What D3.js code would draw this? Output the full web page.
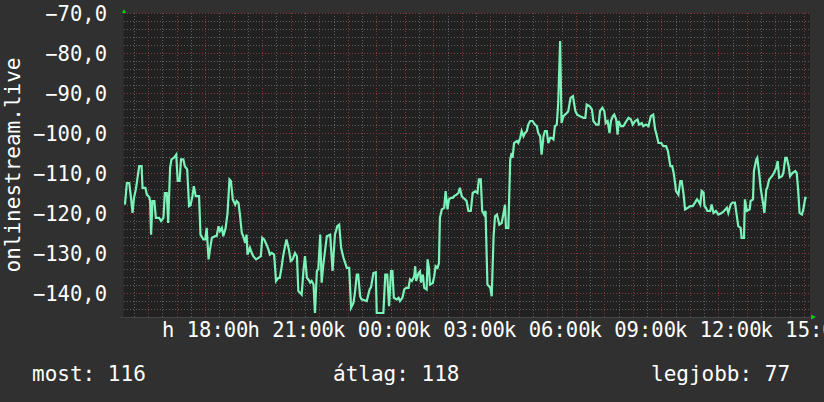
<!DOCTYPE html>
<html>
<head>
<meta charset="utf-8">
<script src="https://cdn.jsdelivr.net/npm/d3@7"></script>
<style>
  html, body { margin: 0; padding: 0; background: #303030; }
  svg { display: block; }
  text { font-family: 'DejaVu Sans Mono', monospace; fill: #ffffff; }
</style>
</head>
<body>
<div id="chart"></div>
<script>
// [minutes after Mon 15:09, value]
const signal = [
  [2, -117.9], [6, -112.5], [11, -112.5], [14, -115.4], [18, -120], [21, -116.2], [25, -114.1],
  [28, -111.6], [32, -108.3], [37, -108.3], [39, -113.7], [45, -113.7], [48, -115.4], [53, -116],
  [55, -117], [57, -125.4], [60, -117], [64, -117], [67, -121.2], [74, -121.2], [78, -122],
  [83, -121.2], [86, -115], [90, -115], [93, -122.5], [97, -108.7], [100, -106.6], [105, -106.2],
  [110, -105.4], [113, -112], [117, -112], [120, -106.6], [125, -106.6], [128, -108.3], [133, -109.1],
  [137, -118.3], [140, -118.1], [144, -115.8], [147, -113.3], [151, -115.8], [158, -115.8], [161, -125.4],
  [167, -126.6], [171, -126.6], [174, -123.7], [178, -131.6], [181, -129.1], [185, -126.2], [192, -125.8],
  [195, -125.8], [199, -123.3], [202, -124.5], [206, -123.7], [209, -125.8], [214, -123.7], [218, -120],
  [222, -111.6], [225, -112], [229, -116.6], [234, -117.9], [237, -117], [241, -117.5], [244, -120.4],
  [248, -125], [251, -125.8], [255, -127.5], [258, -125.4], [260, -130.4], [265, -128.7], [269, -130],
  [272, -130.8], [278, -131.6], [283, -131.2], [288, -130.8], [291, -126.2], [295, -126.6], [300, -127.9],
  [304, -129.1], [307, -130.4], [311, -130], [316, -130.4], [320, -137], [325, -136.2], [328, -136.2],
  [332, -133.3], [335, -130.8], [339, -128.3], [342, -126.6], [347, -129.1], [351, -132], [355, -131.6],
  [360, -130], [364, -130.8], [367, -139.5], [371, -140], [374, -140.4], [378, -134.1], [381, -130.8],
  [385, -136.2], [388, -136.6], [392, -137.4], [395, -137], [399, -137.9], [402, -145], [406, -134.5],
  [409, -134.1], [413, -125.4], [416, -137.4], [420, -132.5], [427, -125.8], [434, -125.4],
  [439, -134.5], [444, -125.4], [449, -123.3], [453, -122.9], [457, -128.7], [462, -131.2], [469, -133.7],
  [474, -133.7], [478, -143.7], [483, -142.5], [486, -140], [490, -135.4], [493, -135.4], [497, -140.8],
  [500, -141.6], [511, -142], [517, -139.1], [520, -138.5], [525, -135], [530, -134.8], [532, -145],
  [546, -145], [550, -135.4], [554, -135.4], [558, -143.3], [562, -134.5], [565, -134.5], [568, -141.2],
  [574, -141.6], [578, -141.2], [581, -142], [586, -141.2], [590, -139.1], [594, -138.7], [599, -138.7],
  [602, -136.6], [606, -137], [611, -135.8], [613, -133.3], [615, -137], [620, -135], [623, -134.6],
  [625, -137.4], [629, -135.4], [632, -138.7], [637, -139.1], [639, -131.6], [642, -133.7], [644, -137.9],
  [650, -137.5], [653, -135.8], [656, -133.3], [660, -133.7], [663, -132.5], [665, -121.2], [669, -119.1],
  [674, -118.7], [677, -114.5], [681, -119.1], [684, -116.6], [688, -116.2], [692, -116.2], [695, -115.8],
  [700, -115.4], [704, -115], [707, -113.7], [711, -115.8], [714, -116.2], [718, -116.6], [721, -117],
  [725, -119.5], [730, -119.5], [734, -115], [739, -114.6], [744, -115], [747, -111.6], [751, -111.6],
  [754, -119.5], [758, -120.4], [761, -119.5], [765, -137.9], [771, -138.7], [774, -140.8], [778, -125.8],
  [781, -120.8], [785, -120.4], [790, -122.9], [795, -122.5], [799, -120], [802, -117.9], [804, -123.7],
  [809, -123.7], [813, -106.6], [816, -105], [818, -106.2], [821, -102.5], [827, -102], [830, -102.5],
  [834, -101.2], [837, -99.5], [841, -100.8], [844, -100], [848, -99.5], [851, -97.9], [855, -97],
  [860, -97], [865, -97.9], [869, -98.3], [872, -100], [876, -100.8], [879, -105.4], [883, -100.8],
  [886, -99.5], [890, -99.5], [893, -102.5], [897, -101.2], [900, -101.2], [904, -101.6], [907, -98.3],
  [911, -97.9], [914, -92.5], [918, -77],
  [921, -97.5], [925, -95.8], [932, -95], [935, -94.6], [940, -91.2], [945, -90.8], [950, -94.5],
  [954, -95.4], [960, -95.8], [967, -96.2], [971, -96.2], [974, -92.9], [980, -93.3], [985, -94.1],
  [988, -97], [994, -97.9], [999, -97.9], [1002, -94.5], [1007, -93.7], [1011, -94.5], [1014, -97.5],
  [1018, -97], [1022, -100], [1025, -97], [1029, -95.8], [1032, -95.4], [1036, -96.6], [1039, -100.4],
  [1041, -97], [1046, -98.3], [1051, -98.3], [1055, -97.5], [1062, -96.2], [1067, -96.6], [1071, -97.9],
  [1076, -97], [1081, -96.6], [1084, -97.9], [1090, -97.5], [1093, -98.3], [1099, -97.9], [1104, -98.3],
  [1109, -95.8], [1114, -95.4], [1118, -99.1], [1121, -100.4], [1125, -102.5], [1131, -102.5], [1135, -103.3],
  [1141, -103.3], [1145, -104.5], [1150, -108.3], [1154, -108.3], [1157, -110], [1160, -112.5], [1162, -114.5],
  [1167, -115.4], [1171, -112], [1174, -112], [1178, -115.4], [1181, -119.1], [1187, -118.7], [1192, -118.3],
  [1197, -118.3], [1202, -117.4], [1206, -116.6], [1209, -117], [1213, -117.9], [1216, -114.5], [1220, -114.9],
  [1222, -118.3], [1225, -118.7], [1228, -119.5], [1234, -119.5], [1237, -117.9], [1241, -120], [1246, -119.5],
  [1251, -120.4], [1258, -120], [1263, -119.5], [1269, -118.7], [1272, -120], [1277, -117.9], [1281, -117.4],
  [1286, -117.4], [1290, -120.8], [1293, -123.3], [1298, -123.7], [1300, -126.2], [1305, -126.2], [1307, -116.6],
  [1311, -119.5], [1317, -119.1], [1319, -117], [1324, -116.6], [1326, -109.5], [1331, -106.6], [1333, -106.2],
  [1337, -110], [1340, -113.7], [1345, -117.4], [1348, -120], [1352, -114.1], [1354, -113.7], [1358, -111.6],
  [1364, -110.8], [1368, -110], [1373, -108.7], [1376, -107], [1379, -111.2], [1385, -110.8], [1388, -110],
  [1392, -106.2], [1395, -106.2], [1399, -108.3], [1402, -110.8], [1407, -110], [1413, -109.5], [1416, -110],
  [1419, -114.1], [1422, -120], [1427, -120.4], [1430, -119.1], [1434, -116.2], [1437, -116.2]
];
const xTickLabels = ['h 18:00', 'h 21:00', 'k 00:00', 'k 03:00', 'k 06:00', 'k 09:00', 'k 12:00', 'k 15:00'];
const yTickValues = [-140, -130, -120, -110, -100, -90, -80, -70];
const axisTitle = 'onlinestream.live';
const legendLabels = ['most', 'átlag', 'legjobb'];
const legendValues = [116, 118, 77];

const [w, h] = [824, 402];
const [pL, pR, pT, pB] = [124, 810, 13, 317];
const start = new Date(2024, 0, 1, 15, 9);
const end = new Date(2024, 0, 2, 15, 13);

const xScale = d3.scaleTime().domain([start, end]).range([pL, pR]);
const yScale = d3.scaleLinear().domain([-146, -70]).range([pB, pT]);
const huFormat = d3.formatLocale({ decimal: ',', thousands: ' ', grouping: [3], currency: ['', ''] }).format('.1f');
const px = v => Math.round(v) + 0.5;

const svg = d3.select('#chart').append('svg')
  .attr('width', w).attr('height', h);

svg.append('rect').attr('width', w).attr('height', h).attr('fill', '#303030');
svg.append('rect')
  .attr('x', pL).attr('y', pT)
  .attr('width', pR - pL).attr('height', pB - pT)
  .attr('fill', '#212121');

// grid: minor first, major on top
const grid = svg.append('g').attr('stroke-width', 1).attr('stroke-dasharray', '1,2')
  .attr('shape-rendering', 'crispEdges');
const minorY = d3.range(-144, -69, 2).filter(v => v % 10 !== 0);
const minorX = d3.timeMinute.every(30).range(start, end).filter(d => d.getMinutes() !== 0);
grid.selectAll('.hminor').data(minorY).enter().append('line')
  .attr('x1', pL).attr('x2', pR)
  .attr('y1', d => px(yScale(d))).attr('y2', d => px(yScale(d)))
  .attr('stroke', '#5e5e5e');
grid.selectAll('.vminor').data(minorX).enter().append('line')
  .attr('y1', pT).attr('y2', pB)
  .attr('x1', d => px(xScale(d))).attr('x2', d => px(xScale(d)))
  .attr('stroke', '#5e5e5e');
grid.selectAll('.hmajor').data(yTickValues).enter().append('line')
  .attr('x1', pL).attr('x2', pR)
  .attr('y1', d => px(yScale(d))).attr('y2', d => px(yScale(d)))
  .attr('stroke', '#8a3838');
grid.selectAll('.vmajor').data(d3.timeHour.range(start, end)).enter().append('line')
  .attr('y1', pT).attr('y2', pB)
  .attr('x1', d => px(xScale(d))).attr('x2', d => px(xScale(d)))
  .attr('stroke', '#8a3838');

// axis lines and arrows
svg.append('line')
  .attr('x1', pL - 4).attr('x2', pR + 2)
  .attr('y1', pB + 0.5).attr('y2', pB + 0.5)
  .attr('stroke', '#454545');
svg.append('line')
  .attr('x1', pL - 0.5).attr('x2', pL - 0.5)
  .attr('y1', pT - 2).attr('y2', pB + 3)
  .attr('stroke', '#2a2a2a');
svg.append('path')
  .attr('d', `M${pL - 2},${pT} L${pL + 2},${pT} L${pL},${pT - 4} Z`)
  .attr('fill', '#00d000');
svg.append('path')
  .attr('d', `M${pR + 1},${pB - 2.5} L${pR + 1},${pB + 2.5} L${pR + 6},${pB} Z`)
  .attr('fill', '#00d000');

// y labels
svg.append('g').selectAll('text').data(yTickValues).enter().append('text')
  .attr('x', 107).attr('y', d => yScale(d) + 7.5)
  .attr('text-anchor', 'end')
  .attr('font-size', 20.5)
  .text(d => huFormat(d));

// x labels (the last one runs off the right edge, as in the original)
const xTicks = d3.timeHour.every(3).range(start, end);
svg.append('g').selectAll('text').data(xTicks).enter().append('text')
  .attr('x', d => xScale(d)).attr('y', 337)
  .attr('text-anchor', 'middle')
  .attr('font-size', 20.5)
  .text((d, i) => xTickLabels[i]);

// vertical title
svg.append('text')
  .attr('transform', `translate(19.5, ${(pT + pB) / 2}) rotate(-90)`)
  .attr('text-anchor', 'middle')
  .attr('font-size', 21)
  .text(axisTitle);

// series
svg.append('clipPath').attr('id', 'plotClip')
  .append('rect').attr('x', pL).attr('y', pT - 2)
  .attr('width', pR - pL).attr('height', pB - pT + 2);
const line = d3.line()
  .x(d => xScale(d3.timeMinute.offset(start, d[0])))
  .y(d => yScale(d[1]));
svg.append('path')
  .datum(signal)
  .attr('clip-path', 'url(#plotClip)')
  .attr('d', line)
  .attr('fill', 'none')
  .attr('stroke', '#7af2b8')
  .attr('stroke-width', 2.2)
  .attr('stroke-linejoin', 'miter');

// legend
const legendX = [32, 333, 651];
svg.append('g').selectAll('text').data(legendLabels).enter().append('text')
  .attr('x', (d, i) => legendX[i]).attr('y', 381)
  .attr('font-size', 21)
  .text((d, i) => `${d}: ${legendValues[i]}`);
</script>
</body>
</html>
